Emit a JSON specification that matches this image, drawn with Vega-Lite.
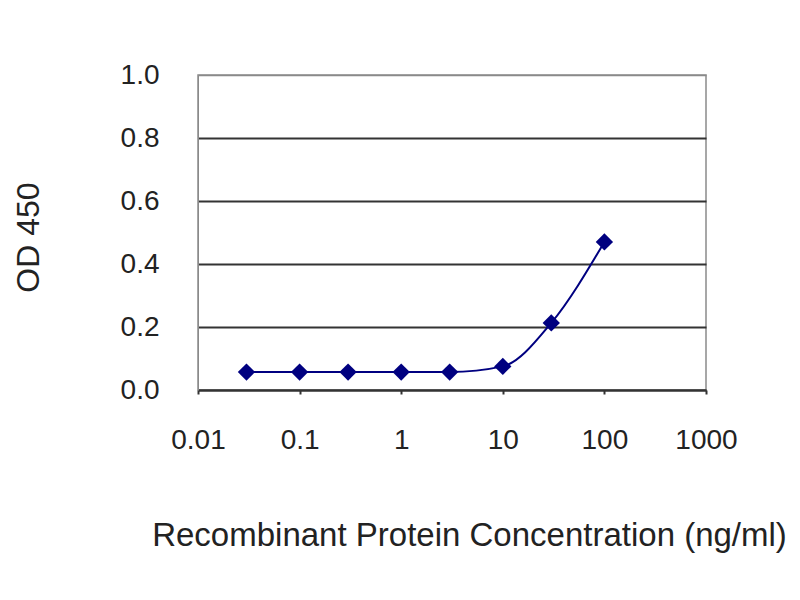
{
  "$schema": "https://vega.github.io/schema/vega-lite/v6.json",
  "autosize": {"type": "none"},
  "width": 508,
  "height": 315,
  "padding": {"left": 198, "top": 75, "right": 94, "bottom": 210},
  "background": "white",
  "config": {
    "view": {"stroke": "#8a8a8a", "strokeWidth": 1.5},
    "font": "Liberation Sans"
  },
  "data": {
    "values": [
      {"conc": 0.03, "od": 0.057},
      {"conc": 0.1, "od": 0.057},
      {"conc": 0.3, "od": 0.057},
      {"conc": 1, "od": 0.057},
      {"conc": 3, "od": 0.057},
      {"conc": 10, "od": 0.075},
      {"conc": 30, "od": 0.213},
      {"conc": 100, "od": 0.47}
    ]
  },
  "encoding": {
    "x": {
      "field": "conc",
      "type": "quantitative",
      "scale": {"type": "log", "domain": [0.01, 1000], "nice": false},
      "axis": {
        "values": [0.01, 0.1, 1, 10, 100, 1000],
        "format": "~g",
        "grid": false,
        "domain": true,
        "domainColor": "#333333",
        "domainWidth": 2,
        "ticks": true,
        "tickSize": 4,
        "tickColor": "#333333",
        "tickWidth": 2,
        "labelFont": "Liberation Sans",
        "labelFontSize": 28,
        "labelColor": "#222222",
        "labelPadding": 46,
        "labelBaseline": "middle",
        "labelFlush": false,
        "title": "Recombinant Protein Concentration (ng/ml)",
        "titleFont": "Liberation Sans",
        "titleFontSize": 33,
        "titleFontWeight": "normal",
        "titleColor": "#222222",
        "titleX": 271,
        "titleY": 145,
        "titleAlign": "center",
        "titleBaseline": "middle"
      }
    },
    "y": {
      "field": "od",
      "type": "quantitative",
      "scale": {"domain": [0, 1], "nice": false},
      "axis": {
        "values": [0, 0.2, 0.4, 0.6, 0.8, 1.0],
        "format": ".1f",
        "grid": true,
        "gridColor": {"condition": {"test": "datum.value >= 1", "value": "#8a8a8a"}, "value": "#333333"},
        "gridWidth": {"condition": {"test": "datum.value >= 1", "value": 1.5}, "value": 2},
        "domain": true,
        "domainColor": "#8a8a8a",
        "ticks": false,
        "labelFont": "Liberation Sans",
        "labelFontSize": 28,
        "labelColor": "#222222",
        "labelPadding": 39,
        "labelFlush": false,
        "title": "OD 450",
        "titleFont": "Liberation Sans",
        "titleFontSize": 32,
        "titleFontWeight": "normal",
        "titleColor": "#222222",
        "titleAngle": -90,
        "titleX": -170,
        "titleY": 162,
        "titleAlign": "center",
        "titleBaseline": "middle"
      }
    }
  },
  "layer": [
    {"mark": {"type": "line", "color": "#000080", "strokeWidth": 2, "interpolate": "monotone"}},
    {"mark": {"type": "point", "shape": "diamond", "filled": true, "color": "#000080", "opacity": 1, "size": 300}}
  ]
}
